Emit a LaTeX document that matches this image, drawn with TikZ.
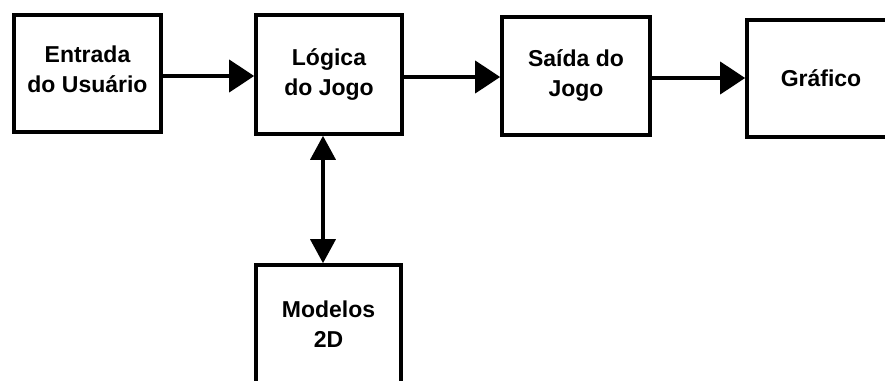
\documentclass[tikz,border=0pt]{standalone}
\usepackage{fontspec}
\setmainfont{Liberation Sans}
\usetikzlibrary{arrows.meta}

\tikzset{
  block/.style={draw=black, line width=3.6pt, fill=white, align=center,
    font=\bfseries\fontsize{23}{30}\selectfont, inner sep=0pt},
  flow/.style={line width=3.8pt, -{Triangle[length=25pt,width=32pt]}},
  twoway/.style={line width=3.6pt,
    {Triangle[length=24pt,width=25pt]}-{Triangle[length=24pt,width=25pt]}}
}

\begin{document}
\begin{tikzpicture}[x=1pt, y=-1pt]
  \useasboundingbox (0,0) rectangle (885,380);
  \clip (0,0) rectangle (885,380);
  \fill[white] (0,0) rectangle (885,380);

  % processing blocks
  \node[block, minimum width=147pt, minimum height=117pt, text depth=8pt] (entrada) at (87.5,73.5)
    {Entrada\\do Usuário};
  \node[block, minimum width=146pt, minimum height=119pt] (logica) at (329,74.5)
    {Lógica\\do Jogo};
  \node[block, minimum width=148pt, minimum height=118pt] (saida) at (576,76)
    {Saída do\\Jogo};
  \node[block, minimum width=148pt, minimum height=117pt] (grafico) at (821,78.5)
    {Gráfico};
  \node[block, minimum width=145pt, minimum height=118pt] (modelos) at (328.5,324)
    {Modelos\\2D};

  % data flow
  \draw[flow] (entrada.east |- 0,76) -- (logica.west |- 0,76);
  \draw[flow] (logica.east |- 0,77) -- (saida.west |- 0,77);
  \draw[flow] (saida.east |- 0,78) -- (grafico.west |- 0,78);
  \draw[twoway] (logica.south -| 323,0) -- (modelos.north -| 323,0);
\end{tikzpicture}
\end{document}
